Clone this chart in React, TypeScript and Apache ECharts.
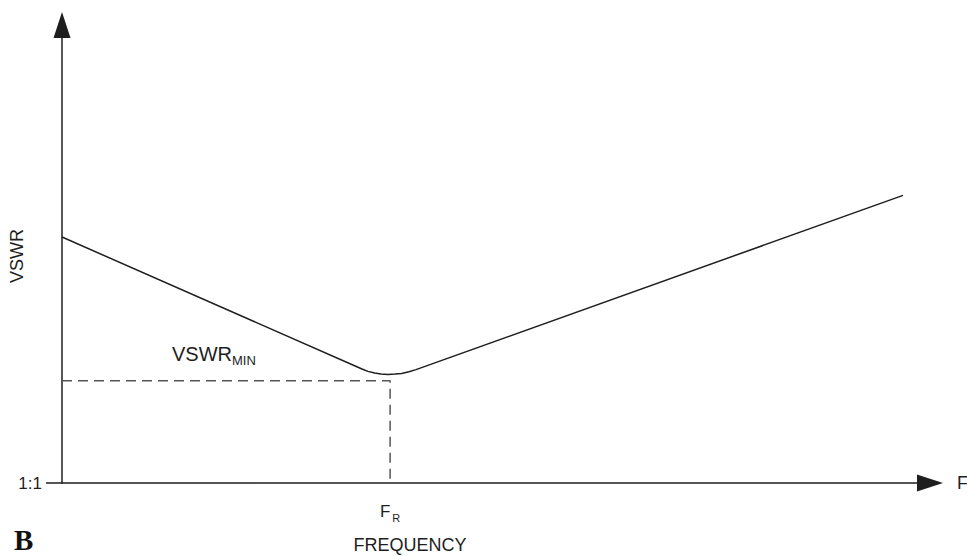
import React, { useEffect, useRef } from "react";
import * as echarts from "echarts";

// Curve (x: frequency on a 0-100 scale, y: VSWR on a 0-100 scale, 0 = 1:1)
const curveX = [0, 34.56, 35.25, 36.01, 36.75, 37.56, 38.36, 39.12, 39.98, 40.78, 96.89];
const curveY = [53.71, 24.89, 24.37, 24.0, 23.78, 23.69, 23.78, 23.93, 24.28, 24.76, 62.8];
// Resonant frequency and minimum VSWR guide
const freqR = 37.8;
const vswrMin = 22.3;
const yTickLabels = ["1:1"];

const FONT = "'Liberation Sans', Arial, Helvetica, sans-serif";
const INK = "#1e1e1e";

export default function App() {
  const ref = useRef<HTMLDivElement>(null);
  useEffect(() => {
    if (!ref.current) return;
    const chart = echarts.init(ref.current, null, { renderer: "svg" });
    const curve = curveX.map((x, i) => [x, curveY[i]]);
    const guide = [
      [0, vswrMin],
      [freqR, vswrMin],
      [freqR, 0],
    ];
    chart.setOption({
      animation: false,
      backgroundColor: "#ffffff",
      grid: { left: 62, right: 37, top: 25, bottom: 73, containLabel: false, outerBoundsMode: "none" },
      xAxis: {
        type: "value",
        min: 0,
        max: 100,
        name: "F",
        nameLocation: "end",
        nameGap: 27,
        nameTextStyle: { color: INK, fontSize: 18, fontFamily: FONT, align: "left", verticalAlign: "middle" },
        axisLine: {
          show: true,
          symbol: ["none", "triangle"],
          symbolSize: [17, 26],
          lineStyle: { color: INK, width: 1.5 },
        },
        axisTick: { show: false },
        splitLine: { show: false },
        axisLabel: {
          show: true,
          customValues: [freqR],
          margin: 20,
          formatter: () => "{f|F}{r|R}",
          rich: {
            f: { fontSize: 17, fontFamily: FONT, color: INK, lineHeight: 20, verticalAlign: "top" },
            r: { fontSize: 11, fontFamily: FONT, color: INK, lineHeight: 20, verticalAlign: "top", padding: [9, 0, 0, 2] },
          },
        },
      },
      yAxis: {
        type: "value",
        min: 0,
        max: 100,
        axisLine: {
          show: true,
          symbol: ["none", "triangle"],
          symbolSize: [17, 26],
          lineStyle: { color: INK, width: 1.5 },
        },
        axisTick: {
          show: true,
          customValues: [0],
          length: 16,
          lineStyle: { color: INK, width: 1.5 },
        },
        splitLine: { show: false },
        axisLabel: {
          show: true,
          customValues: [0],
          margin: 20,
          formatter: () => yTickLabels[0],
          color: INK,
          fontSize: 17,
          fontFamily: FONT,
        },
      },
      series: [
        {
          type: "line",
          data: curve,
          showSymbol: false,
          smooth: false,
          lineStyle: { color: INK, width: 1.5, join: "round" },
          z: 3,
        },
        {
          type: "line",
          data: guide,
          showSymbol: false,
          lineStyle: { color: "#555555", width: 1.5, type: [10, 6] },
          z: 2,
        },
      ],
      graphic: [
        {
          type: "text",
          x: 17,
          y: 256,
          rotation: Math.PI / 2,
          style: {
            text: "VSWR",
            fontSize: 18,
            fontFamily: FONT,
            fill: INK,
            align: "center",
            verticalAlign: "middle",
          },
        },
        {
          type: "text",
          x: 172,
          y: 356,
          style: {
            text: "{a|VSWR}{b|MIN}",
            verticalAlign: "middle",
            rich: {
              a: { fontSize: 20, fontFamily: FONT, fill: INK, color: INK, lineHeight: 24, verticalAlign: "top" },
              b: { fontSize: 13, fontFamily: FONT, fill: INK, color: INK, lineHeight: 24, verticalAlign: "top", padding: [10, 0, 0, 0] },
            },
          },
        },
        {
          type: "text",
          x: 410,
          y: 545,
          style: {
            text: "FREQUENCY",
            fontSize: 18,
            fontFamily: FONT,
            fill: INK,
            align: "center",
            verticalAlign: "middle",
          },
        },
        {
          type: "text",
          x: 14,
          y: 540,
          style: {
            text: "B",
            fontSize: 29,
            fontWeight: "bold",
            fontFamily: "'Liberation Serif', 'Times New Roman', serif",
            fill: "#111111",
            align: "left",
            verticalAlign: "middle",
          },
        },
      ],
    });
    return () => chart.dispose();
  }, []);
  return (
    <div
      ref={ref}
      style={{ position: "absolute", left: 0, top: 0, width: 967, height: 556, background: "#fff" }}
    />
  );
}
